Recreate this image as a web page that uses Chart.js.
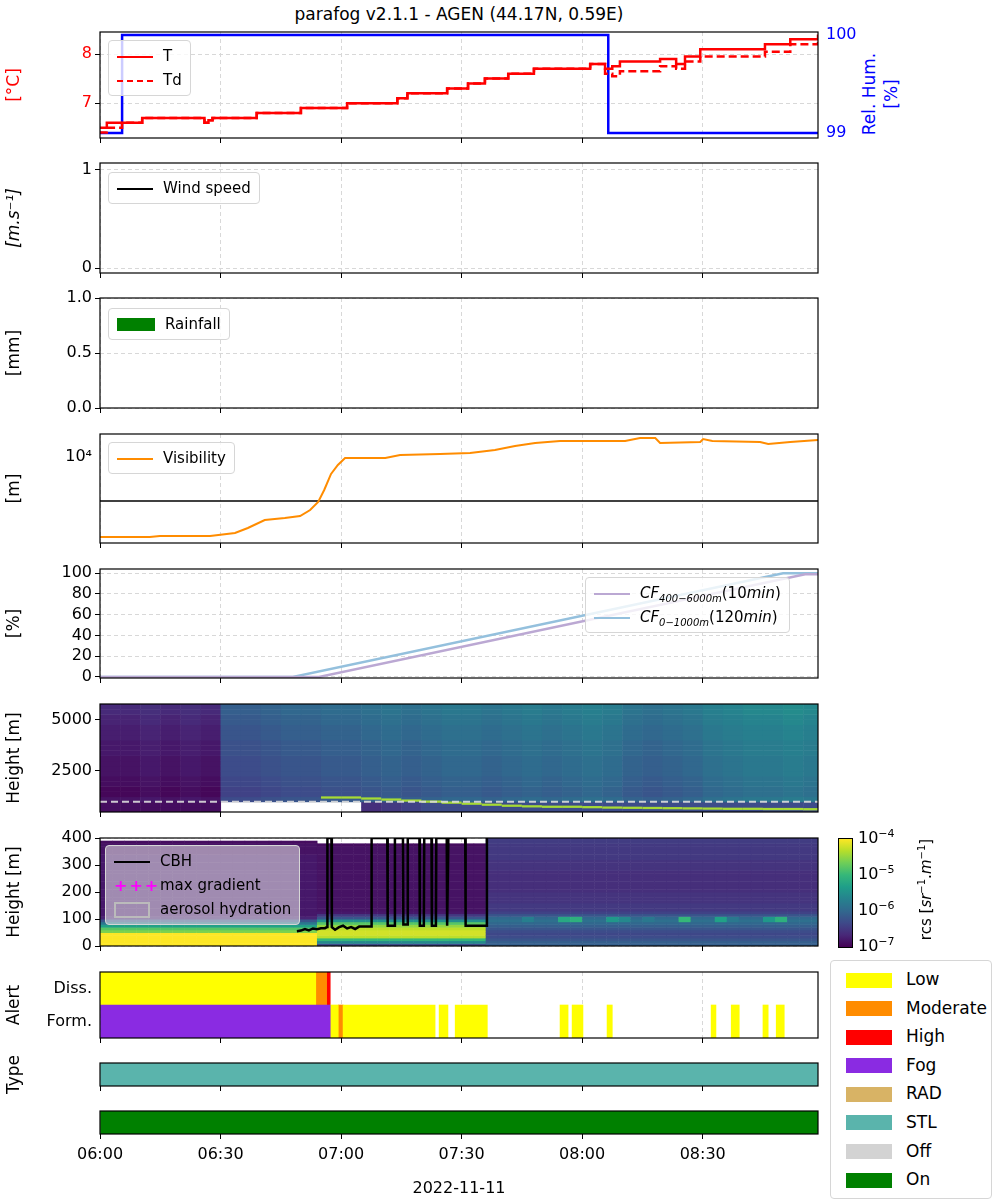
<!DOCTYPE html>
<html>
<head>
<meta charset="utf-8">
<script src="https://cdn.jsdelivr.net/npm/chart.js@4"></script>
<style>
  body { margin: 0; background: #fff; font-family: "DejaVu Sans", sans-serif; }
  #page { position: relative; width: 1000px; height: 1200px; }
  canvas { position: absolute; left: 0; }
  .lg { position: absolute; background: rgba(255,255,255,0.8); border: 1px solid #d6d6d6; border-radius: 4px; font-size: 15px; padding: 3px 8px; }
  .lg div { height: 24px; line-height: 24px; white-space: nowrap; }
  .sw { display: inline-block; width: 36px; vertical-align: middle; margin-right: 10px; }
  .txt { position: absolute; white-space: nowrap; }
</style>
</head>
<body>
<div id="page">
  <div class="txt" style="left:0;width:918px;top:4px;text-align:center;font-size:17px;">parafog v2.1.1 - AGEN (44.17N, 0.59E)</div>
  <div class="txt" style="left:820px;top:72px;width:120px;text-align:center;font-size:17px;color:blue;line-height:22px;transform:rotate(-90deg);">Rel. Hum.<br>[%]</div>
</div>
<script>
// Axe du temps en minutes depuis 06:00
const tMax = 178.7;

// Temperature et point de rosee
const tTime = [0, 1.7, 5.5, 10.5, 26, 27, 28, 39, 50, 61.5, 74, 76.5, 86.4, 91.6, 95.8, 101.6, 108, 122, 125.7, 127.5, 129.4, 139.4, 143.4, 145.6, 149.4, 165.5, 171.8, 178.7];
const tVal = [6.5, 6.6, 6.6, 6.7, 6.6, 6.65, 6.7, 6.8, 6.9, 7.0, 7.1, 7.2, 7.3, 7.4, 7.5, 7.6, 7.7, 7.8, 7.7, 7.75, 7.85, 7.9, 7.8, 7.95, 8.1, 8.2, 8.3, 8.4];
const tdVal = [6.4, 6.5, 6.6, 6.7, 6.6, 6.65, 6.7, 6.8, 6.9, 7.0, 7.1, 7.2, 7.3, 7.4, 7.5, 7.6, 7.7, 7.8, 7.6, 7.55, 7.65, 7.75, 7.7, 7.85, 7.95, 8.05, 8.2, 8.25];
const rhTime = [0, 5.5, 126.5, 178.7];
const rhVal = [99, 100, 99, 99];

// Visibilite
const visTime = [0, 12.4, 14.9, 27.4, 33.6, 36.8, 41, 46, 49.8, 52.3, 54.3, 55.8, 57.5, 59.2, 61, 71, 74.7, 84.6, 92.1, 98.3, 103.3, 108.3, 114.5, 130.7, 134.4, 138.2, 139.4, 149.4, 150.1, 152.4, 164.3, 166.3, 171.8, 178.7];
const visVal = [152, 152, 160, 160, 187, 243, 370, 411, 456, 624, 950, 1780, 4110, 6580, 9500, 9500, 11100, 11700, 12300, 14400, 17800, 20800, 23100, 23100, 27000, 27000, 20800, 21900, 25600, 23100, 21900, 19700, 21900, 24300];
const visThreshold = 1000;

// Fraction nuageuse
const cfHighTime = [0, 54.5, 175.5, 178.7];
const cfHighVal = [0, 0, 99, 99];
const cfLowTime = [0, 48, 170, 178.7];
const cfLowVal = [0, 0, 100, 100];

// Lidar 400-5750 m : colonnes de 5 min, log10(rcs)
const bg6 = [-6.85, -6.85, -6.8, -6.85, -6.8, -6.85, -6.3, -6.3, -6.25, -6.2, -6.2, -6.15, -6.15, -6.1, -6.05, -6.1, -6.05, -6.0, -6.0, -6.05, -6.0, -5.95, -6.0, -5.95, -5.9, -5.95, -6.05, -6.1, -6.05, -6.0, -5.9, -5.85, -5.8, -5.8, -5.75, -5.8];
const prof6 = [0, 0, 0, -0.1, -0.1, -0.05, -0.05, 0, 0, 0, 0, 0.05, 0.05, 0.05, 0.1, 0.1, 0.1, 0.15, 0.15, 0.2, 0.2];
const low6 = [-6.9, -6.9, -6.9, -6.9, -6.9, -6.9, null, null, null, null, null, null, null, -6.6, -6.5, -6.4, -6.3, -6.3, -6.3, -6.3, -6.3, -6.3, -6.3, -6.3, -6.3, -6.3, -6.3, -6.3, -6.3, -6.3, -6.3, -6.3, -6.3, -6.3, -6.3, -6.3];
const layer6 = [null, null, null, null, null, null, null, null, null, null, null, 1150, 1150, 1100, 1050, 1000, 950, 900, 850, 800, 750, 720, 700, 700, 680, 660, 650, 640, 630, 620, 610, 600, 600, 590, 590, 580];

// Lidar 0-400 m : colonnes de 3 min, type de profil et taches a 90-110 m
const type7 = "FFFFFFFFFFFFFFFFFFLLLLLLLLLLLLLLSSSSSSSSSSSSSSSSSSSSSSSSSSSS";
const profF = [-4, -4, -4, -4, -4, -4.6, -4.8, -5.3, -5.8, -6.2, -6.7, -6.8, -6.8, -6.8, -6.8, -6.8, -6.8, -6.8, -6.8, -6.8, -6.8, -6.8, -6.8, -6.8, -6.8, -6.8, -6.8, -6.8, -6.8, -6.8, -6.8, -6.8, -6.8, -6.8, -6.85, -6.85, -6.85, -6.85, -6.9, null];
const profL = [-6.3, -5.6, -5.0, -4.3, -4.2, -4.2, -4.3, -4.5, -4.8, -5.5, -6.2, -6.5, -6.8, -6.85, -6.85, -6.85, -6.85, -6.85, -6.85, -6.85, -6.85, -6.85, -6.85, -6.85, -6.85, -6.85, -6.85, -6.85, -6.85, -6.85, -6.85, -6.85, -6.85, -6.85, -6.85, -6.85, -6.85, -6.9, null, null];
const profS = [-6.1, -6.1, -6.2, -6.3, -6.35, -6.3, -6.2, -6.1, -6.0, -5.9, -6.0, -6.2, -6.4, -6.5, -6.5, -6.5, -6.55, -6.55, -6.55, -6.55, -6.6, -6.6, -6.6, -6.6, -6.6, -6.6, -6.6, -6.6, -6.55, -6.55, -6.55, -6.55, -6.5, -6.5, -6.5, -6.5, -6.5, -6.5, -6.45, -6.45];
const spotCol = [35, 38, 39, 42, 43, 45, 48, 51, 52, 55, 56];
const spotVal = [-5.7, -5.2, -5.1, -5.4, -5.6, -5.8, -5.0, -5.3, -5.8, -5.4, -5.1];

// Hauteur de base des nuages (CBH)
const cbhTime = [49, 50, 51, 52, 53, 54, 55, 56, 56.5, 56.6, 57.6, 57.7, 58.5, 59.5, 60.5, 61.5, 62.5, 63.5, 64.5, 67.5, 67.6, 71.5, 71.6, 73.3, 73.4, 75.4, 75.5, 76.5, 76.6, 79.5, 79.6, 80.6, 80.7, 82.5, 82.6, 83.6, 83.7, 86.3, 86.4, 86.6, 86.7, 90.9, 91.0, 96.2, 96.3];
const cbhVal = [55, 57, 63, 58, 65, 62, 66, 66, 70, 400, 400, 70, 60, 70, 75, 65, 70, 63, 72, 72, 400, 400, 75, 75, 400, 400, 80, 80, 400, 400, 75, 75, 400, 400, 75, 75, 400, 400, 75, 75, 400, 400, 75, 75, 400];

// Alertes
const alertCats = ["Diss.", "Form."];
const alertLow = [["Diss.", 0, 53.7], ["Form.", 57.3, 59.3], ["Form.", 60.5, 83.4], ["Form.", 84.4, 86.6], ["Form.", 88.4, 96.4], ["Form.", 114.5, 116.5], ["Form.", 117.5, 120.2], ["Form.", 126.2, 127.5], ["Form.", 152.1, 153.3], ["Form.", 157.1, 159.1], ["Form.", 165, 166.3], ["Form.", 168.3, 170.3]];
const alertModerate = [["Diss.", 53.7, 56.4], ["Form.", 59.3, 60.5]];
const alertHigh = [["Diss.", 56.4, 57.3]];
const alertFog = [["Form.", 0, 57.3]];

const colors = { Low: "#ffff00", Moderate: "#ff8c00", High: "#ff0000", Fog: "#8a2be2", RAD: "#d8b365", STL: "#5ab4ac", Off: "#d3d3d3", On: "#008000" };

Chart.defaults.font.family = "DejaVu Sans";
Chart.defaults.font.size = 16;
Chart.defaults.color = "#000";
Chart.defaults.animation = false;

const viridis = ["#440154", "#482878", "#3e4989", "#31688e", "#26828e", "#1f9e89", "#35b779", "#6ece58", "#b5de2b", "#fde725"];
function cmap(v) {
  let t = Math.max(0, Math.min(1, (v + 7) / 3)) * (viridis.length - 1);
  const i = Math.min(Math.floor(t), viridis.length - 2), f = t - i;
  const a = viridis[i], b = viridis[i + 1];
  const c = [1, 3, 5].map(k => Math.round(parseInt(a.substr(k, 2), 16) * (1 - f) + parseInt(b.substr(k, 2), 16) * f));
  return `rgb(${c.join(",")})`;
}

const pts = (xs, ys) => xs.map((x, i) => ({ x, y: ys[i] }));
const hhmm = m => { const t = 360 + m; return String(Math.floor(t / 60)).padStart(2, "0") + ":" + String(Math.round(t % 60)).padStart(2, "0"); };

// Cadre noir autour de la zone de trace
const framePlugin = {
  id: "frame",
  afterDraw(chart) {
    const a = chart.chartArea, ctx = chart.ctx;
    ctx.save();
    ctx.strokeStyle = "#000";
    ctx.lineWidth = 1.2;
    ctx.strokeRect(a.left, a.top, a.right - a.left, a.bottom - a.top);
    ctx.restore();
  }
};

function setTicks(vals) { return s => { s.ticks = vals.map(v => ({ value: v })); }; }

function xAxis(last) {
  return {
    type: "linear", min: 0, max: tMax,
    grid: { color: last ? "rgba(0,0,0,0)" : "#d8d8d8", tickColor: "#000", tickLength: 5 },
    border: { display: false, dash: [4, 3] },
    afterBuildTicks: setTicks([0, 30, 60, 90, 120, 150]),
    ticks: { callback: v => last ? hhmm(v) : "", padding: 6, maxRotation: 0, autoSkip: false },
    title: { display: last, text: "2022-11-11", padding: { top: 6 } },
    afterFit: s => { s.height = last ? 68 : 8; s.paddingLeft = 0; s.paddingRight = 0; }
  };
}

function yAxis(opts) {
  const o = Object.assign({
    grid: { color: "#d8d8d8", tickColor: "#000", tickLength: 5 },
    border: { display: false, dash: [4, 3] },
    afterFit: s => { s.width = 100; }
  }, opts);
  const fit = o.afterFit;
  o.afterFit = s => { fit(s); s.paddingTop = 0; s.paddingBottom = 0; };
  o.ticks = Object.assign({ autoSkip: false }, o.ticks || {});
  return o;
}

const PAD = 12;
function panel(top, h, datasets, scales, extra) {
  const last = extra && extra.last;
  const xh = last ? 68 : 8;
  const cv = document.createElement("canvas");
  cv.width = 1000; cv.height = h + PAD + xh;
  cv.style.top = (top - PAD) + "px";
  document.getElementById("page").appendChild(cv);
  scales.x = xAxis(last);
  return new Chart(cv, {
    type: (extra && extra.type) || "line",
    data: { labels: extra && extra.labels, datasets },
    options: Object.assign({
      responsive: false,
      devicePixelRatio: 1,
      layout: { padding: { top: PAD, left: 0, right: (extra && extra.right) || 182, bottom: 0 } },
      plugins: { legend: { display: false }, tooltip: { enabled: false } },
      scales,
      elements: { point: { radius: 0 } }
    }, (extra && extra.options) || {}),
    plugins: [framePlugin].concat((extra && extra.plugins) || [])
  });
}

// 1. Temperature / humidite
panel(32, 106, [
  { data: pts(tTime, tVal), borderColor: "red", borderWidth: 2.5, stepped: true, yAxisID: "y" },
  { data: pts(tTime, tdVal), borderColor: "red", borderWidth: 2.5, borderDash: [8, 4], stepped: true, yAxisID: "y" },
  { data: pts(rhTime, rhVal), borderColor: "blue", borderWidth: 2.5, stepped: true, yAxisID: "y1" }
], {
  y: yAxis({ min: 6.29, max: 8.45, afterBuildTicks: setTicks([7, 8]), ticks: { color: "red" },
    title: { display: true, text: "[°C]", color: "red", font: { size: 17 } } }),
  y1: yAxis({ position: "right", min: 98.95, max: 100.03, grid: { display: false, tickColor: "#000", tickLength: 5 },
    afterBuildTicks: setTicks([99, 100]), ticks: { color: "blue" },
    afterFit: s => { s.width = 95; } })
}, { right: 87 });

// 2. Vent
panel(163, 110, [{ data: [] }], {
  y: yAxis({ min: -0.05, max: 1.07, afterBuildTicks: setTicks([0, 1]),
    title: { display: true, text: "[m.s⁻¹]", font: { size: 17, style: "italic" } } })
});

// 3. Pluie
panel(298, 110, [{ data: [] }], {
  y: yAxis({ min: 0, max: 1, afterBuildTicks: setTicks([0, 0.5, 1]), ticks: { callback: v => v.toFixed(1) },
    title: { display: true, text: "[mm]", font: { size: 17 } } })
});

// 4. Visibilite
panel(434, 109, [
  { data: pts(visTime, visVal), borderColor: "#ff8c00", borderWidth: 2 },
  { data: [{ x: 0, y: visThreshold }, { x: tMax, y: visThreshold }], borderColor: "#000", borderWidth: 1.5 }
], {
  y: yAxis({ type: "logarithmic", min: 111, max: 33300, grid: { display: false, tickColor: "#000", tickLength: 5 },
    afterBuildTicks: setTicks([10000]), ticks: { callback: () => "10⁴" },
    title: { display: true, text: "[m]", font: { size: 17 } } })
});

// 5. Fraction nuageuse
panel(569, 109, [
  { data: pts(cfHighTime, cfHighVal), borderColor: "#bba8d3", borderWidth: 2.5 },
  { data: pts(cfLowTime, cfLowVal), borderColor: "#94c0dd", borderWidth: 2.5 }
], {
  y: yAxis({ min: -1, max: 104, afterBuildTicks: setTicks([0, 20, 40, 60, 80, 100]),
    title: { display: true, text: "[%]", font: { size: 17 } } })
});

// 6. Lidar haut
const heat6 = {
  id: "heat6",
  beforeDatasetsDraw(chart) {
    const x = chart.scales.x, y = chart.scales.y, ctx = chart.ctx, a = chart.chartArea;
    ctx.save();
    ctx.beginPath(); ctx.rect(a.left, a.top, a.width, a.height); ctx.clip();
    bg6.forEach((b, c) => {
      const x0 = x.getPixelForValue(c * 5), x1 = x.getPixelForValue(c * 5 + 5);
      prof6.forEach((p, r) => {
        const h0 = 500 + r * 250;
        const v = r < 2 ? low6[c] : b + p;
        if (v === null) return;
        const y0 = y.getPixelForValue(h0 + 250), y1 = y.getPixelForValue(h0);
        ctx.fillStyle = cmap(v);
        ctx.fillRect(x0, y0, x1 - x0 + 0.5, y1 - y0 + 0.5);
      });
      if (layer6[c] !== null) {
        const y0 = y.getPixelForValue(layer6[c] + 110), y1 = y.getPixelForValue(layer6[c]);
        ctx.fillStyle = cmap(-4.4);
        ctx.fillRect(x0, y0, x1 - x0 + 0.5, y1 - y0);
      }
    });
    ctx.strokeStyle = "rgba(220,220,220,0.9)"; ctx.setLineDash([7, 4]); ctx.lineWidth = 2;
    const yl = y.getPixelForValue(1000);
    ctx.beginPath(); ctx.moveTo(a.left, yl); ctx.lineTo(a.right, yl); ctx.stroke();
    ctx.restore();
  }
};
panel(704, 108, [{ data: [] }], {
  y: yAxis({ min: 500, max: 5750, afterBuildTicks: setTicks([2500, 5000]), ticks: { callback: v => String(v) },
    title: { display: true, text: "Height [m]", font: { size: 17 } } })
}, { plugins: [heat6] });

// 7. Lidar bas
const heat7 = {
  id: "heat7",
  beforeDatasetsDraw(chart) {
    const x = chart.scales.x, y = chart.scales.y, ctx = chart.ctx, a = chart.chartArea;
    ctx.save();
    ctx.beginPath(); ctx.rect(a.left, a.top, a.width, a.height); ctx.clip();
    for (let c = 0; c < type7.length; c++) {
      const prof = { F: profF, L: profL, S: profS }[type7[c]];
      const x0 = x.getPixelForValue(c * 3), x1 = x.getPixelForValue(c * 3 + 3);
      prof.forEach((v, r) => {
        let val = v;
        const k = spotCol.indexOf(c);
        if (k >= 0 && (r === 9 || r === 10)) val = spotVal[k];
        if (val === null) return;
        const y0 = y.getPixelForValue(r * 10 + 10), y1 = y.getPixelForValue(r * 10);
        ctx.fillStyle = cmap(val);
        ctx.fillRect(x0, y0, x1 - x0 + 0.5, y1 - y0 + 0.5);
      });
    }
    ctx.restore();
  }
};
panel(838, 108, [
  { data: pts(cbhTime, cbhVal), borderColor: "#000", borderWidth: 2.5 }
], {
  y: yAxis({ min: 0, max: 400, afterBuildTicks: setTicks([0, 100, 200, 300, 400]),
    grid: { color: "rgba(200,200,200,0.5)", tickColor: "#000", tickLength: 5 },
    title: { display: true, text: "Height [m]", font: { size: 17 } } })
}, { plugins: [heat7] });

// 8. Alertes
const barSet = (rows, color) => ({
  data: rows.map(r => ({ y: r[0], x: [r[1], r[2]] })), backgroundColor: color,
  barPercentage: 1, categoryPercentage: 1, grouped: false
});
panel(972, 66, [
  barSet(alertFog, colors.Fog), barSet(alertLow, colors.Low), barSet(alertModerate, colors.Moderate), barSet(alertHigh, colors.High)
], {
  y: yAxis({ type: "category", labels: alertCats, grid: { display: false, tickColor: "#000", tickLength: 5 },
    title: { display: true, text: "Alert", font: { size: 17 } } })
}, { type: "bar", labels: alertCats, options: { indexAxis: "y" } });

// 9. Type
panel(1063, 23, [barSet([["a", 0, tMax]], colors.STL)], {
  y: yAxis({ type: "category", labels: ["a"], grid: { display: false }, ticks: { display: false },
    title: { display: true, text: "Type", font: { size: 17 } } })
}, { type: "bar", labels: ["a"], options: { indexAxis: "y" } });

// 10. Etat
panel(1111, 23, [barSet([["a", 0, tMax]], colors.On)], {
  y: yAxis({ type: "category", labels: ["a"], grid: { display: false }, ticks: { display: false } })
}, { type: "bar", labels: ["a"], options: { indexAxis: "y" }, last: true });

// Legendes (HTML)
const page = document.getElementById("page");
function legend(left, top, items, style) {
  const d = document.createElement("div");
  d.className = "lg";
  d.style.left = left + "px"; d.style.top = top + "px";
  if (style) Object.assign(d.style, style);
  d.innerHTML = items.map(it => `<div><span class="sw" style="${it[1]}"></span>${it[0]}</div>`).join("");
  page.appendChild(d);
}
const line = (c, st) => `border-top:2.5px ${st || "solid"} ${c};height:0;`;
const box = c => `background:${c};height:13px;width:38px;`;
legend(108, 40, [["T", line("red")], ["Td", line("red", "dashed")]]);
legend(108, 172, [["Wind speed", line("#000")]]);
legend(108, 308, [["Rainfall", box("green")]]);
legend(108, 442, [["Visibility", line("#ff8c00")]]);
legend(585, 577, [["<i>CF</i><sub style='font-size:10px'><i>400−6000m</i></sub>(10<i>min</i>)", line("#bba8d3")],
  ["<i>CF</i><sub style='font-size:10px'><i>0−1000m</i></sub>(120<i>min</i>)", line("#94c0dd")]]);
legend(105, 845, [["CBH", line("#000")],
  ["max gradient", "color:magenta;font-weight:bold;font-size:16px;letter-spacing:2px;"],
  ["aerosol hydration", "border:2px solid #bbb;height:12px;width:32px;"]],
  { background: "rgba(235,235,235,0.55)" });
page.lastChild.children[1].firstChild.textContent = "+++";

const big = document.createElement("div");
big.className = "lg";
Object.assign(big.style, { left: "830px", top: "960px", width: "146px", fontSize: "17px", padding: "4px 7px", background: "#fff" });
big.innerHTML = Object.keys(colors).map(k =>
  `<div style="height:28.6px;line-height:28.6px"><span class="sw" style="background:${colors[k]};height:15px;width:46px;margin-right:14px;margin-left:8px"></span>${k}</div>`).join("");
page.appendChild(big);

// Barre de couleur
const cb = document.createElement("div");
Object.assign(cb.style, { position: "absolute", left: "838px", top: "838px", width: "13px", height: "108px", border: "1px solid #000",
  background: "linear-gradient(to top," + viridis.join(",") + ")" });
page.appendChild(cb);
[["−4", 838], ["−5", 874], ["−6", 910], ["−7", 946]].forEach(([e, y]) => {
  const t = document.createElement("div");
  t.className = "txt";
  t.style.left = "858px"; t.style.top = (y - 11) + "px"; t.style.fontSize = "16px";
  t.innerHTML = `10<sup style="font-size:11px">${e}</sup>`;
  page.appendChild(t);
});
const cbl = document.createElement("div");
cbl.className = "txt";
Object.assign(cbl.style, { left: "862px", top: "880px", fontSize: "15px", transform: "rotate(-90deg)", transformOrigin: "center", width: "126px", textAlign: "center" });
cbl.innerHTML = "rcs [<i>sr</i><sup style='font-size:10px'>−1</sup>.<i>m</i><sup style='font-size:10px'>−1</sup>]";
page.appendChild(cbl);
</script>
</body>
</html>
